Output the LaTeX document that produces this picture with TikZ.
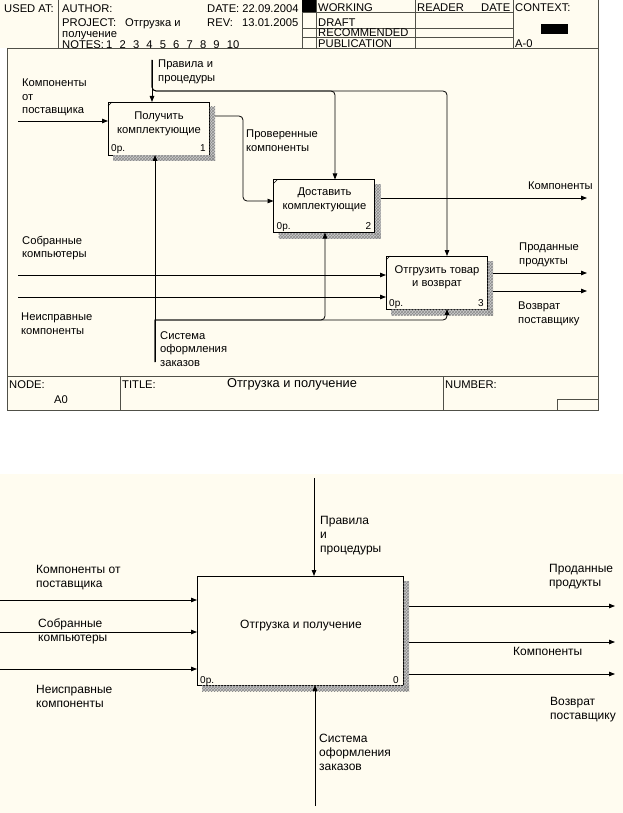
\documentclass[tikz,border=0pt]{standalone}
\usepackage{fontspec}
\setmainfont{Liberation Sans}
\usetikzlibrary{arrows.meta,calc,patterns}
\definecolor{cream}{RGB}{255,252,240}
\definecolor{framegray}{RGB}{80,80,72}

\tikzset{
  idefbox/.style={draw=black, line width=0.9pt, fill=cream, minimum width=101pt, minimum height=53pt, inner sep=0pt, outer sep=0pt},
  arr/.style={draw=black, line width=0.8pt, -{Triangle[length=6pt,width=4.5pt]}},
  lbl/.style={font=\fontsize{11.2}{13.5}\selectfont, align=left, inner sep=0pt, anchor=north west},
  lblb/.style={font=\fontsize{12}{13.8}\selectfont, align=left, inner sep=0pt, anchor=north west},
  hdr/.style={font=\fontsize{11.2}{13.5}\selectfont, inner sep=0pt, anchor=base west},
  btext/.style={font=\fontsize{11.2}{13.5}\selectfont, align=center, inner sep=0pt, anchor=north},
  cost/.style={font=\fontsize{10}{12}\selectfont, inner sep=0pt},
  frameline/.style={draw=framegray, line width=0.8pt},
  hatch/.style={pattern=crosshatch, pattern color=gray!90},
}

\newcommand\idefshadow[1]{%
  \fill[gray!40] ($(#1.north east)+(0.5,5)$) rectangle ($(#1.south east)+(6,6)$);
  \fill[gray!40] ($(#1.south west)+(5,0.5)$) rectangle ($(#1.south east)+(6,6)$);
  \fill[hatch] ($(#1.north east)+(0.5,5)$) rectangle ($(#1.south east)+(6,6)$);
  \fill[hatch] ($(#1.south west)+(5,0.5)$) rectangle ($(#1.south east)+(6,6)$);
}
\newcommand\idefcorner[1]{%
  \draw[line width=0.6pt] ($(#1.north west)+(0,4)$) -- ($(#1.north west)+(4,0)$);
}

\begin{document}
\begin{tikzpicture}[x=1pt,y=-1pt]
\useasboundingbox (0,0) rectangle (623,813);
\fill[white] (0,0) rectangle (623,813);
\fill[cream] (0,0) rectangle (598,48);
\fill[cream] (7,48) rectangle (598,410);
\fill[cream] (0,474) rectangle (623,813);

% ---------- frame ----------
\draw[frameline] (7,48) -- (7,410) -- (598,410) -- (598,0);
\draw[frameline] (7,48) -- (598,48);
\draw[frameline] (7,376) -- (598,376);
\draw[frameline] (58,0) -- (58,48);
\draw[frameline] (302,0) -- (302,48);
\draw[frameline] (316,0) -- (316,48);
\draw[frameline] (415,0) -- (415,48);
\draw[frameline] (513,0) -- (513,48);
\draw[frameline] (302,12) -- (513,12);
\draw[frameline] (302,28) -- (513,28);
\draw[frameline] (302,37) -- (513,37);
\draw[frameline] (120,376) -- (120,410);
\draw[frameline] (443,376) -- (443,410);
\draw[frameline] (557,410) -- (557,399) -- (598,399);
\fill[black] (302,0) rectangle (316,12);
\fill[black] (541,24) rectangle (568,34);

% header texts
\node[hdr] (hUsed) at (4,12.5) {USED AT:};
\node[hdr] (hAuthor) at (62,12.5) {AUTHOR:};
\node[hdr] (hDate) at (207,12.5) {DATE: 22.09.2004};
\node[hdr] (hProj) at (62,26.5) {PROJECT:};
\node[hdr] (hProjV) at (125,26.5) {Отгрузка и};
\node[hdr] (hRev) at (207,26.5) {REV:};
\node[hdr] (hRevV) at (242,26.5) {13.01.2005};
\node[hdr] (hProj2) at (62,37.5) {получение};
\node[hdr] (hNotes) at (62,48.5) {NOTES:};
\foreach \i [count=\k from 0] in {1,...,10}{
  \node[hdr] (hN\i) at (106+13.4*\k,48.5) {\i};
}
\node[hdr] (hWork) at (318,12) {WORKING};
\node[hdr] (hDraft) at (318,27) {DRAFT};
\node[hdr] (hRec) at (318,37) {RECOMMENDED};
\node[hdr] (hPub) at (318,48) {PUBLICATION};
\node[hdr] (hReader) at (417,12) {READER};
\node[hdr] (hRDate) at (481,12) {DATE};
\node[hdr] (hCtx) at (515,12) {CONTEXT:};
\node[hdr] (hA0) at (515,48) {A-0};

% footer texts
\node[hdr] (fNode) at (9,388) {NODE:};
\node[hdr] (fNodeV) at (54,403) {A0};
\node[hdr] (fTitle) at (122,388) {TITLE:};
\node[hdr, anchor=base, font=\fontsize{12.8}{14}\selectfont] (fTitleV) at (292,387) {Отгрузка и получение};
\node[hdr] (fNum) at (445,388) {NUMBER:};

% ---------- top diagram boxes ----------
\node[idefbox] (b1) at (158.5,128.5) {};
\node[idefbox] (b2) at (324,206) {};
\node[idefbox] (b3) at (436.5,282.5) {};
\idefshadow{b1}\idefshadow{b2}\idefshadow{b3}
\idefcorner{b1}\idefcorner{b2}\idefcorner{b3}

\node[btext] (t1) at ($(b1.north)+(0.5,10)$) {Получить\\комплектующие};
\node[btext] (t2) at ($(b2.north)+(0.5,8.5)$) {Доставить\\комплектующие};
\node[btext] (t3) at ($(b3.north)+(0.5,9)$) {Отгрузить товар\\и возврат};

\node[cost, anchor=base west] (p1) at ($(b1.south west)+(3,-3)$) {0р.};
\node[cost, anchor=base east] (n1) at ($(b1.south east)+(-3,-3)$) {1};
\node[cost, anchor=base west] (p2) at ($(b2.south west)+(3,-3)$) {0р.};
\node[cost, anchor=base east] (n2) at ($(b2.south east)+(-3,-3)$) {2};
\node[cost, anchor=base west] (p3) at ($(b3.south west)+(3,-3)$) {0р.};
\node[cost, anchor=base east] (n3) at ($(b3.south east)+(-3,-3)$) {3};

% controls
\coordinate (ctop) at (152,60);
\coordinate (c2) at (335,91);
\coordinate (c3) at (447,91);
\draw[arr] (ctop) -- (ctop |- b1.north);
\draw[arr, rounded corners=4pt] (ctop) |- (c2) -- (c2 |- b2.north);
\draw[arr, rounded corners=4pt] (ctop) |- (c3) -- (c3 |- b3.north);

% mechanisms
\coordinate (mbot) at (155,362);
\coordinate (m2) at (325,320);
\coordinate (m3) at (447,320);
\draw[arr] (mbot) -- (mbot |- b1.south);
\draw[arr] (mbot) |- ($(m2)+(-6,0)$) [rounded corners=4pt] -- (m2) -- (m2 |- b2.south);
\draw[arr] (mbot) |- ($(m3)+(-6,0)$) [rounded corners=4pt] -- (m3) -- (m3 |- b3.south);

% inputs
\coordinate (i1) at (18,121);
\coordinate (i2) at (18,275);
\coordinate (i3) at (18,297);
\draw[arr] (i1) -- (i1 -| b1.west);
\draw[arr] (i2) -- (i2 -| b3.west);
\draw[arr] (i3) -- (i3 -| b3.west);

% 1 -> 2
\coordinate (k0) at (243,116);
\coordinate (k1) at (243,201);
\draw[arr, rounded corners=4pt] ($(k0 -| b1.east)+(6,0)$) -- (k0) -- (k1) -- (k1 -| b2.west);

% outputs
\coordinate (o1) at (587,198);
\coordinate (o2) at (587,273);
\coordinate (o3) at (587,291);
\draw[arr] ($(o1 -| b2.east)+(6,0)$) -- (o1);
\draw[arr] ($(o2 -| b3.east)+(6,0)$) -- (o2);
\draw[arr] ($(o3 -| b3.east)+(6,0)$) -- (o3);

% labels top
\node[lbl] (l1) at (22,79) {Компоненты\\от\\поставщика};
\node[lbl] (l2) at (158,60) {Правила и\\процедуры};
\node[lbl] (l3) at (246,130) {Проверенные\\компоненты};
\node[lbl] (l4) at (528,182) {Компоненты};
\node[lbl] (l5) at (22,236) {Собранные\\компьютеры};
\node[lbl] (l6) at (21,313) {Неисправные\\компоненты};
\node[lbl] (l7) at (160,331) {Система\\оформления\\заказов};
\node[lbl] (l8) at (519,243) {Проданные\\продукты};
\node[lbl] (l9) at (518,302) {Возврат\\поставщику};

% ---------- bottom diagram ----------
\node[idefbox, minimum width=206pt, minimum height=109pt] (b0) at (300,630.5) {};
\idefshadow{b0}
\node[font=\fontsize{12}{14}\selectfont, inner sep=0pt, anchor=base] (t0) at (301,628) {Отгрузка и получение};
\node[cost, anchor=base west] (p0) at ($(b0.south west)+(3,-2)$) {0р.};
\node[cost, anchor=base east] (n0) at ($(b0.south east)+(-4,-2)$) {0};

\coordinate (ct0) at (314,478);
\coordinate (mb0) at (315,806);
\draw[arr] (ct0) -- (ct0 |- b0.north);
\draw[arr] (mb0) -- (mb0 |- b0.south);

\coordinate (bi1) at (0,600);
\coordinate (bi2) at (0,632);
\coordinate (bi3) at (0,669);
\draw[arr] (bi1) -- (bi1 -| b0.west);
\draw[arr] (bi2) -- (bi2 -| b0.west);
\draw[arr] (bi3) -- (bi3 -| b0.west);

\coordinate (bo1) at (615,606);
\coordinate (bo2) at (615,642);
\coordinate (bo3) at (615,674);
\draw[arr] ($(bo1 -| b0.east)+(6,0)$) -- (bo1);
\draw[arr] ($(bo2 -| b0.east)+(6,0)$) -- (bo2);
\draw[arr] ($(bo3 -| b0.east)+(6,0)$) -- (bo3);

\node[lblb] (bl1) at (320,516.4) {Правила\\и\\процедуры};
\node[lblb] (bl2) at (36,565.4) {Компоненты от\\поставщика};
\node[lblb] (bl3) at (38,618.4) {Собранные\\компьютеры};
\node[lblb] (bl4) at (36,685.4) {Неисправные\\компоненты};
\node[lblb] (bl5) at (549,564) {Проданные\\продукты};
\node[lblb] (bl6) at (513,647.4) {Компоненты};
\node[lblb] (bl7) at (550,697.4) {Возврат\\поставщику};
\node[lblb] (bl8) at (319,734.4) {Система\\оформления\\заказов};
\end{tikzpicture}
\end{document}
